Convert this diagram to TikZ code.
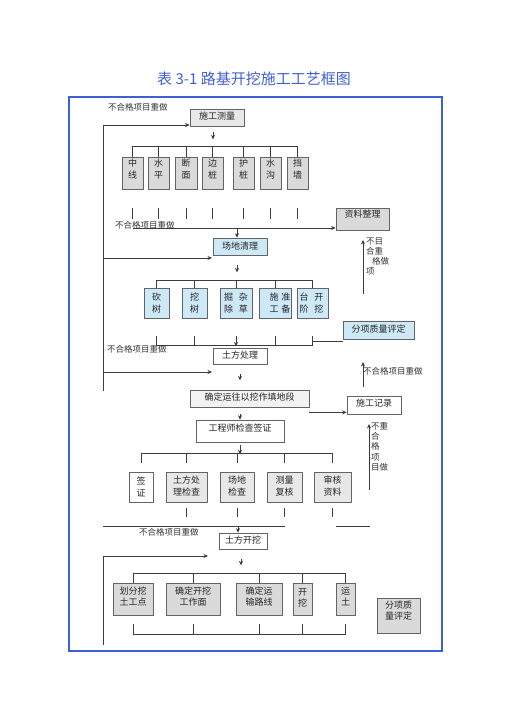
\documentclass[tikz,border=0pt]{standalone}
\usepackage{fontspec}
\setmainfont{Noto Sans CJK SC}
\usetikzlibrary{arrows.meta}
\definecolor{frameblue}{RGB}{58,98,212}
\definecolor{titleblue}{RGB}{64,96,208}
\definecolor{boxgray}{RGB}{218,218,218}
\definecolor{boxlight}{RGB}{232,232,232}
\definecolor{boxpale}{RGB}{242,242,242}
\definecolor{boxblue}{RGB}{205,232,247}
\definecolor{edge}{RGB}{100,100,100}
\definecolor{ink}{RGB}{60,60,60}
\tikzset{
  bx/.style={draw=edge, line width=0.7pt, inner sep=0pt},
  gbox/.style={bx, fill=boxgray},
  lbox/.style={bx, fill=boxlight},
  pbox/.style={bx, fill=boxpale},
  bbox/.style={bx, fill=boxblue},
  wbox/.style={bx, fill=white},
  txt/.style={inner sep=0pt, align=center, font=\fontsize{9}{11.5}\selectfont, text=black!85},
  lbl/.style={inner sep=0pt, align=left, font=\fontsize{8.5}{10}\selectfont, text=black!80},
  ln/.style={draw=ink, line width=0.6pt},
  arr/.style={draw=ink, line width=0.6pt, -{Stealth[length=4.5pt,width=4pt]}}
}
\newcommand\mybox[8]{%
  \node[#6, minimum width={(#4)-(#2)}, minimum height={(#5)-(#3)}] (#1) at ({((#2)+(#4))/2},{((#3)+(#5))/2}) {};
  \node[txt] (#1-t) at ([#8]#1.center) {#7};}
\begin{document}
\begin{tikzpicture}[x=1pt,y=-1pt]
\useasboundingbox (0,0) rectangle (504,713);
% title and frame
\node[font=\fontsize{15}{18}\selectfont, text=titleblue, inner sep=0pt] (title) at (254,79) {表 3-1 路基开挖施工工艺框图};
\draw[frameblue, line width=2pt] (69,97) rectangle (442,651);

% ---------- first block ----------
\mybox{cl}{190}{109}{244}{126}{lbox}{施工测量}{yshift=1pt}
\node[lbl, anchor=west] (lb1) at (108,107) {不合格项目重做};
\draw[arr] ([xshift=-4pt,yshift=-6pt]cl.south) -- ++(0,7);

\mybox{r1a}{122}{157}{143}{189}{gbox}{中\\线}{yshift=4pt}
\mybox{r1b}{148}{157}{169}{189}{gbox}{水\\平}{yshift=4pt}
\mybox{r1c}{175}{157}{197}{189}{gbox}{断\\面}{yshift=4pt}
\mybox{r1d}{202}{157}{223}{189}{gbox}{边\\桩}{yshift=4pt}
\mybox{r1e}{233}{157}{254}{189}{gbox}{护\\桩}{yshift=4pt}
\mybox{r1f}{260}{157}{281}{189}{gbox}{水\\沟}{yshift=4pt}
\mybox{r1g}{287}{157}{308}{189}{gbox}{挡\\墙}{yshift=4pt}
\draw[ln] (r1a.north) -- ++(0,-10) -| (r1g.north);
\foreach \n in {r1b,r1c,r1d,r1e,r1f} \draw[ln] (\n.north) -- ++(0,-10);
\foreach \n in {r1a,r1b,r1c,r1d,r1e,r1f,r1g} \draw[ln] ([yshift=-19pt]\n.south) -- ++(0,11);

\mybox{zl}{336}{208}{389}{230}{gbox}{资料整理}{yshift=5pt}
\coordinate (f1) at (133,228);
\draw[arr] (f1) -- (f1 -| zl.west);
\node[lbl, anchor=west] (lb2) at (115,225) {不合格项目重做};

\mybox{cq}{213}{238}{267}{255}{bbox}{场地清理}{yshift=0pt}
\coordinate (cqin) at ([xshift=-3pt]cq.north);
\draw[arr] (f1 -| cqin) -- (cqin);

% left feedback line (upper)
\coordinate (L1) at (103,125);
\coordinate (L2) at (103,391);
\draw[arr] (L2) -- (L1) -- (L1 -| cl.west);
\coordinate (a2) at (212,258);
\draw[arr] (a2 -| L1) -- (a2);
\coordinate (a3) at (212,372);
\draw[arr] (a3 -| L1) -- (a3);

\draw[arr] ([xshift=-3pt,yshift=-10pt]cq.south) -- ++(0,7);

% ---------- second row ----------
\mybox{r2a}{144}{288}{169}{318}{bbox}{砍\\树}{yshift=0pt}
\mybox{r2b}{182}{288}{207}{318}{bbox}{挖\\树}{yshift=0pt}
\mybox{r2c}{220}{288}{252}{318}{bbox}{掘\hspace{6pt}杂\\除\hspace{6pt}草}{yshift=0pt}
\mybox{r2d}{259}{288}{291}{318}{bbox}{施\hspace{3pt}准\\工\hspace{3pt}备}{xshift=5pt}
\mybox{r2e}{297}{288}{328}{318}{bbox}{台\hspace{6pt}开\\阶\hspace{6pt}挖}{xshift=-1pt}
\draw[ln] (r2a.north) -- ++(0,-7) -| (r2e.north);
\foreach \n in {r2b,r2c,r2d} \draw[ln] (\n.north) -- ++(0,-7);
\draw[ln] ([yshift=-18pt]r2a.south) -- ++(0,9) -| ([yshift=-18pt]r2e.south);
\foreach \n in {r2b,r2d} \draw[ln] ([yshift=-18pt]\n.south) -- ++(0,9);
\draw[arr] ([yshift=-18pt]r2c.south) -- ++(0,10);

\mybox{fz1}{343}{321}{414}{339}{bbox}{分项质量评定}{yshift=1pt}
\coordinate (t5) at ([yshift=-23pt]r2e.south);
\draw[ln] (t5) -- (t5 -| fz1.west);

\coordinate (u1) at (363,294);
\coordinate (u1top) at (363,240);
\draw[arr] (u1) -- (u1top);
\node[lbl, anchor=north west] (lb5) at (366,238) {不目\\合重\\\hspace*{6pt}格做\\项};

% ---------- middle ----------
\node[lbl, anchor=west] (lb3) at (107,349) {不合格项目重做};
\mybox{tf}{213}{348}{267}{364}{wbox}{土方处理}{yshift=0.5pt}
\draw[arr] ([yshift=-10pt]tf.south) -- ++(0,6);

\mybox{yd}{190}{390}{309}{407}{pbox}{确定运往以挖作填地段}{yshift=1pt}
\mybox{sj}{347}{396}{401}{414}{wbox}{施工记录}{yshift=1.5pt}
\coordinate (s1) at ([yshift=-5pt]yd.south east);
\draw[arr] (s1) -- (s1 -| sj.west);

\coordinate (u2) at (363,387);
\coordinate (u2top) at (363,362);
\draw[arr] (u2) -- (u2top);
\node[lbl, anchor=west] (lb6) at (363,371) {不合格项目重做};

\mybox{gc}{196}{420}{284}{442}{wbox}{工程师检查签证}{yshift=3pt}
\coordinate (gcin) at ([yshift=6pt]gc.north);
\draw[arr] (gcin) -- (gc.north);
\draw[arr] ([yshift=-3pt]gc.south) -- ++(0,9);

% ---------- third row ----------
\mybox{r3a}{129}{472}{153}{502}{wbox}{签\\证}{yshift=0pt}
\mybox{r3b}{166}{472}{207}{502}{lbox}{土方处\\理检查}{yshift=1pt}
\mybox{r3c}{220}{472}{254}{502}{lbox}{场地\\检查}{yshift=1pt}
\mybox{r3d}{267}{472}{302}{502}{lbox}{测量\\复核}{yshift=1pt}
\mybox{r3e}{314}{472}{351}{502}{lbox}{审核\\资料}{yshift=1pt}
\draw[ln] ([yshift=9pt]r3a.north) -- ++(0,-9) -| ([yshift=9pt]r3e.north);
\foreach \n in {r3b,r3c,r3d} \draw[ln] ([yshift=9pt]\n.north) -- ++(0,-9);
\foreach \n in {r3b,r3c,r3d,r3e} \draw[ln] ([yshift=-6pt]\n.south) -- ++(0,9);

\coordinate (h1) at (103,526);
\draw[ln] (h1) -- (h1 -| r3d.south);
\coordinate (h2) at (336,526);
\coordinate (h3) at (370,526);
\draw[ln] (h2) -- (h3);

\coordinate (u3) at (369,490);
\coordinate (u3top) at (369,424);
\draw[arr] (u3) -- (u3top);
\node[lbl, anchor=north west, font=\fontsize{8.5}{10.25}\selectfont] (lb7) at (371,422) {不重\\合\\格\\项\\目做};

% ---------- 土方开挖 ----------
\node[lbl, anchor=west] (lb4) at (139,532) {不合格项目重做};
\mybox{tk}{219}{533}{267}{549}{wbox}{土方开挖}{yshift=1pt}
\coordinate (tkin) at ([xshift=-5pt]tk.north);
\draw[arr] (h1 -| tkin) -- (tkin);

\coordinate (L3) at (103,645);
\coordinate (L4) at (103,556);
\coordinate (a4) at (208,556);
\draw[arr] (L3) -- (L4) -- (a4);
\draw[arr] ([xshift=-2pt,yshift=-10pt]tk.south) -- ++(0,6);

% ---------- fourth row ----------
\mybox{r4a}{113}{583}{153}{615}{gbox}{划分挖\\土工点}{yshift=2.5pt}
\mybox{r4b}{166}{583}{220}{615}{gbox}{确定开挖\\工作面}{yshift=2.5pt}
\mybox{r4c}{236}{583}{282}{615}{gbox}{确定运\\输路线}{yshift=2.5pt}
\mybox{r4d}{293}{583}{312}{615}{gbox}{开\\挖}{yshift=1pt}
\mybox{r4e}{336}{583}{355}{615}{gbox}{运\\土}{yshift=2.5pt}
\draw[ln] (r4a.north) -- ++(0,-9) -| (r4e.north);
\foreach \n in {r4b,r4c,r4d} \draw[ln] (\n.north) -- ++(0,-9);
\draw[ln] ([yshift=-9pt]r4a.south) -- ++(0,10) -| ([yshift=-9pt]r4e.south);
\foreach \n in {r4b,r4c,r4d} \draw[ln] ([yshift=-9pt]\n.south) -- ++(0,10);

\mybox{fz2}{377}{598}{420}{633}{gbox}{分项质\\量评定}{yshift=5pt}
\end{tikzpicture}
\end{document}
